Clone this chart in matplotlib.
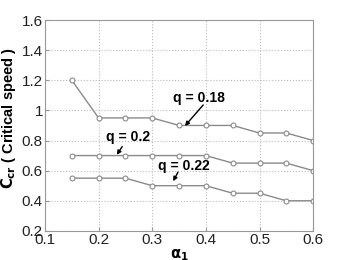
import matplotlib
matplotlib.use("Agg")
import matplotlib.pyplot as plt

alpha1 = [0.15, 0.2, 0.25, 0.3, 0.35, 0.4, 0.45, 0.5, 0.55, 0.6]
c_q018 = [1.2, 0.95, 0.95, 0.95, 0.9, 0.9, 0.9, 0.85, 0.85, 0.8]
c_q020 = [0.7, 0.7, 0.7, 0.7, 0.7, 0.7, 0.65, 0.65, 0.65, 0.6]
c_q022 = [0.55, 0.55, 0.55, 0.5, 0.5, 0.5, 0.45, 0.45, 0.4, 0.4]
xticks = [0.1, 0.2, 0.3, 0.4, 0.5, 0.6]
yticks = [0.2, 0.4, 0.6, 0.8, 1.0, 1.2, 1.4, 1.6]
ytick_labels = ["0.2", "0.4", "0.6", "0.8", "1", "1.2", "1.4", "1.6"]

plt.rcParams['font.family'] = ['Liberation Sans', 'DejaVu Sans']

fig = plt.figure(figsize=(3.46, 2.6), dpi=100)
ax = fig.add_axes([0.130, 0.112, 0.775, 0.811])

gray = '#8a8a8a'
for ys in (c_q018, c_q020, c_q022):
    ax.plot(alpha1, ys, color=gray, lw=1.0, marker='o', ms=3.5,
            mfc='white', mec=gray, mew=0.8)

ax.set_xlim(0.1, 0.6)
ax.set_ylim(0.2, 1.6)
ax.set_xticks(xticks)
ax.set_xticklabels([f"{v:g}" for v in xticks])
ax.set_yticks(yticks)
ax.set_yticklabels(ytick_labels)
ax.tick_params(labelsize=11, length=3, direction='in', color='#999999', pad=1.5, colors='#222222')
ax.grid(True, linestyle=':', color='#bbbbbb', lw=0.8)
for s in ax.spines.values():
    s.set_color('#999999')
    s.set_linewidth(0.8)

ax.set_ylabel(r"$\mathbf{C_{cr}}$ ( Critical speed )", fontsize=10.5, fontweight='bold', labelpad=3)
ax.yaxis.set_label_coords(-0.1, 0.535)
ax.set_xlabel(r"$\mathbf{\alpha_1}$", fontsize=10.5, labelpad=0)

arrowprops = dict(arrowstyle='-|>', color='black', lw=1.0, mutation_scale=6,
                  shrinkA=0, shrinkB=0)
ax.text(0.387, 1.083, "q = 0.18", fontsize=10, fontweight='bold', ha='center', va='center')
ax.annotate("", xy=(0.361, 0.897), xytext=(0.395, 1.036), arrowprops=arrowprops)
ax.text(0.254, 0.825, "q = 0.2", fontsize=10, fontweight='bold', ha='center', va='center')
ax.annotate("", xy=(0.234, 0.705), xytext=(0.244, 0.76), arrowprops=arrowprops)
ax.text(0.358, 0.63, "q = 0.22", fontsize=10, fontweight='bold', ha='center', va='center')
ax.annotate("", xy=(0.339, 0.53), xytext=(0.348, 0.59), arrowprops=arrowprops)

fig.savefig("out.png", dpi=100)
